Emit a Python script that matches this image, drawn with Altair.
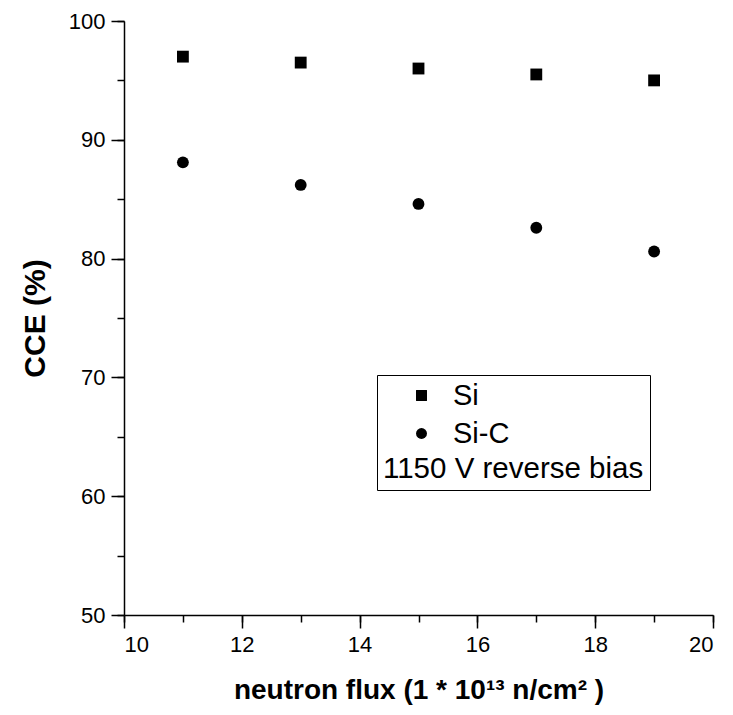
import altair as alt
import pandas as pd

flux = [11, 13, 15, 17, 19]
si = [97.0, 96.5, 96.0, 95.5, 95.0]
sic = [88.1, 86.2, 84.6, 82.6, 80.6]
series = ["Si", "Si-C"]
x_major = [10, 12, 14, 16, 18, 20]
x_minor = list(range(10, 21))
y_major = [50, 60, 70, 80, 90, 100]
y_minor = list(range(50, 101, 5))

rows = []
for f, v in zip(flux, si):
    rows.append({"flux": f, "cce": v, "sample": series[0]})
for f, v in zip(flux, sic):
    rows.append({"flux": f, "cce": v, "sample": series[1]})
df = pd.DataFrame(rows)

FONT = "Liberation Sans"
xscale = alt.Scale(domain=[10, 20], nice=False, zero=False)
yscale = alt.Scale(domain=[50, 100], nice=False, zero=False)

main = alt.Chart(df).mark_point(filled=True, size=140, color="black", opacity=1).encode(
    x=alt.X("flux:Q", scale=xscale, axis=alt.Axis(
        orient="bottom", values=x_major, tickSize=13, tickWidth=1.5, tickColor="black",
        domainColor="black", domainWidth=1.5, labelFont=FONT, labelFontSize=22,
        labelColor="black", labelPadding=6, grid=False,
        title="neutron flux (1 * 10¹³ n/cm² )", titleFont=FONT, titleFontSize=28,
        titleFontWeight="bold", titleColor="black", titlePadding=21)),
    y=alt.Y("cce:Q", scale=yscale, axis=alt.Axis(
        orient="left", values=y_major, tickSize=13, tickWidth=1.5, tickColor="black",
        domainColor="black", domainWidth=1.5, labelFont=FONT, labelFontSize=22,
        labelColor="black", labelPadding=6, grid=False,
        title="CCE (%)", titleFont=FONT, titleFontSize=30,
        titleFontWeight="bold", titleColor="black", titlePadding=18)),
    shape=alt.Shape("sample:N", scale=alt.Scale(domain=series, range=["square", "circle"]),
        legend=alt.Legend(
            orient="none", legendX=253, legendY=354,
            title="1150 V reverse bias", titleOrient="bottom", titleAnchor="start",
            titleAlign="left", titleFont=FONT, titleFontSize=29.5, titleFontWeight="normal",
            titleColor="black", titlePadding=6, titleLimit=600,
            labelFont=FONT, labelFontSize=29, labelColor="black", labelOffset=17,
            labelLimit=400,
            symbolSize=120, symbolFillColor="black", symbolStrokeColor="black",
            symbolOffset=24, rowPadding=8, padding=6,
            strokeColor="black", fillColor="white")),
)

minor = alt.Chart(df).mark_point(opacity=0).encode(
    x=alt.X("flux:Q", scale=xscale, axis=alt.Axis(
        orient="bottom", values=x_minor, tickSize=7, tickWidth=1.5, tickColor="black",
        domain=False, labels=False, grid=False, title=None)),
    y=alt.Y("cce:Q", scale=yscale, axis=alt.Axis(
        orient="left", values=y_minor, tickSize=7, tickWidth=1.5, tickColor="black",
        domain=False, labels=False, grid=False, title=None)),
)

chart = alt.layer(main, minor).resolve_axis(x="independent", y="independent").properties(
    width=589, height=594,
    padding={"left": 12, "top": 2, "right": 8, "bottom": 4},
).configure_view(stroke="transparent")

chart.save("out.html", embed_options={"renderer": "svg", "actions": False})
